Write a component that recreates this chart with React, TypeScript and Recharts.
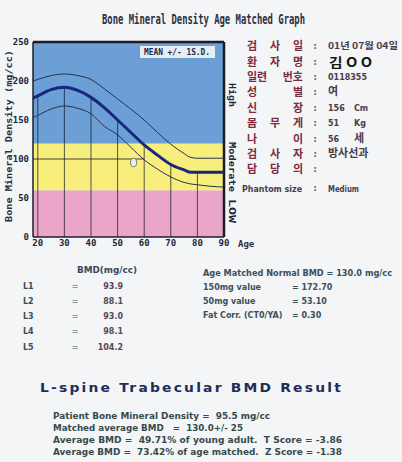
import React from 'react';
import {
    ComposedChart,
    Line,
    XAxis,
    YAxis,
    ReferenceArea,
    ReferenceLine,
    ReferenceDot,
} from 'recharts';

// age-matched reference curves (mg/cc)
const ages = [18.2, 20, 25, 30, 35, 40, 45, 50, 55, 60, 65, 70, 75, 77.5, 80, 85, 90];
const meanBmd = [178, 181, 189, 192, 188, 179, 166, 150, 134, 118, 105, 93, 86, 83, 83, 83, 83];
const upperBmd = [200, 202, 207, 209, 207, 202, 190, 177, 164, 150, 134, 119, 107, 102, 101, 101, 101];
const lowerBmd = [153, 156, 164, 168, 165, 158, 142, 131, 115, 99, 87, 77, 70, 68, 67, 65, 64];

const ageTicks = [20, 30, 40, 50, 60, 70, 80, 90];
const bmdTicks = [0, 50, 100, 150, 200, 250];
const dropAges = [20, 30, 40, 50, 60, 70, 80];

const zoneLimits = [0, 60, 120, 250];
const zoneColors = ['#e9a6c8', '#f7ee7c', '#6b9fd6'];

const patientAge = 56;
const patientBmd = 95.5;
const guideBmd = 100;
const guideAge = 60;

const infoLabels = [
    ['검', '사', '일'],
    ['환', '자', '명'],
    ['일련', '번호'],
    ['성', '별'],
    ['신', '장'],
    ['몸', '무', '게'],
    ['나', '이'],
    ['검', '사', '자'],
    ['담', '당', '의'],
];
const infoValues = ['01년 07월 04일', '김 O O', '0118355', '여', '156', '51', '56', '방사선과', ''];
const infoUnits = ['', '', '', '', 'Cm', 'Kg', '세', '', ''];
const infoRowY = [50, 66, 81, 96, 112, 127, 143, 158, 173];

const vertebrae = ['L1', 'L2', 'L3', 'L4', 'L5'];
const vertebraBmd = ['93.9', '88.1', '93.0', '98.1', '104.2'];
const vertebraY = [289, 304, 319, 334, 350];

const normLabels = ['150mg value', '50mg value', 'Fat Corr. (CT0/YA)'];
const normValues = ['= 172.70', '= 53.10', '= 0.30'];

const resultLines = [
    'Patient Bone Mineral Density =  95.5 mg/cc',
    'Matched average BMD   =  130.0+/- 25',
    'Average BMD =  49.71% of young adult.  T Score = -3.86',
    'Average BMD =  73.42% of age matched.  Z Score = -1.38',
];
const resultWidths = [217, 190, 289, 289];

const rows = ages.map((age, i) => ({
    age,
    mean: meanBmd[i],
    upper: upperBmd[i],
    lower: lowerBmd[i],
}));

const tickFont = { fontSize: 9, fontWeight: 700, fontFamily: 'DejaVu Sans Mono', fill: '#23263a' };

const BmdChart = () => (
    <ComposedChart
        width={402}
        height={462}
        data={rows}
        margin={{ top: 42, right: 178, bottom: 205, left: 13 }}
    >
        {zoneColors.map((c, i) => (
            <ReferenceArea
                key={c}
                x1={18.2}
                x2={90}
                y1={zoneLimits[i]}
                y2={zoneLimits[i + 1]}
                fill={c}
                fillOpacity={1}
                stroke="none"
            />
        ))}
        <XAxis
            dataKey="age"
            type="number"
            domain={[18.2, 90]}
            ticks={ageTicks}
            allowDataOverflow
            tickLine={false}
            tickSize={2}
            tickMargin={1}
            axisLine={{ stroke: '#1c1f2e', strokeWidth: 1.5 }}
            tick={tickFont}
            height={20}
        />
        <YAxis
            type="number"
            domain={[0, 250]}
            ticks={bmdTicks}
            tickLine={false}
            tickSize={2}
            tickMargin={2}
            axisLine={{ stroke: '#1c1f2e', strokeWidth: 1.5 }}
            tick={tickFont}
            width={20}
        />
        {dropAges.map((a) => (
            <ReferenceLine
                key={a}
                segment={[
                    { x: a, y: 0 },
                    { x: a, y: meanBmd[ages.indexOf(a)] },
                ]}
                stroke="rgba(18,22,40,0.72)"
                strokeWidth={1}
            />
        ))}
        <ReferenceLine
            segment={[
                { x: 18.2, y: guideBmd },
                { x: guideAge, y: guideBmd },
            ]}
            stroke="rgba(18,22,40,0.8)"
            strokeWidth={1}
        />
        <ReferenceLine y={250} stroke="#1a1c28" strokeWidth={2.5} />
        <ReferenceLine x={90} stroke="#1a1c28" strokeWidth={2.5} />
        <Line type="monotone" dataKey="upper" stroke="#26324f" strokeWidth={1} dot={false} isAnimationActive={false} />
        <Line type="monotone" dataKey="lower" stroke="#26324f" strokeWidth={1} dot={false} isAnimationActive={false} />
        <Line type="monotone" dataKey="mean" stroke="#19267e" strokeWidth={3} dot={false} isAnimationActive={false} />
        <ReferenceDot
            x={patientAge}
            y={patientBmd}
            r={4}
            shape={(p: any) => (
                <ellipse cx={p.cx} cy={p.cy} rx={3} ry={4.2} fill="#f1f1ee" stroke="#6f7378" strokeWidth={1} />
            )}
        />
    </ComposedChart>
);

const spreadLabel = (tokens: string[], y: number, key: number) => {
    const left = 247;
    const right = 303;
    return tokens.map((t, i) => {
        let x = left;
        let anchor: 'start' | 'middle' | 'end' = 'start';
        if (i === tokens.length - 1 && tokens.length > 1) {
            x = right;
            anchor = 'end';
        } else if (i > 0) {
            x = (left + right) / 2;
            anchor = 'middle';
        }
        return (
            <text key={`${key}-${i}`} x={x} y={y} textAnchor={anchor} fontSize={11} fontWeight={700}
                fontFamily="Noto Sans CJK KR" fill="#7b2c3e">
                {t}
            </text>
        );
    });
};

const hangul = (s: string) => /[가-힣]/.test(s);

const Overlay = () => (
    <svg width={402} height={462} style={{ position: 'absolute', left: 0, top: 0 }}>
        {/* condensed title: small mono face stretched vertically */}
        <text transform="translate(102,24) scale(1,1.45)" textLength={203} lengthAdjust="spacingAndGlyphs"
            fontSize={10} fontWeight={700} fontFamily="DejaVu Sans Mono" fill="#2b2f3f">
            Bone Mineral Density Age Matched Graph
        </text>

        <rect x={140} y={46} width={75} height={12} fill="#e7edf0" />
        <text x={177} y={55} textAnchor="middle" textLength={66} lengthAdjust="spacingAndGlyphs" fontSize={8.5}
            fontWeight={700} fontFamily="DejaVu Sans Mono" fill="#1e2a48">
            MEAN +/- 1S.D.
        </text>

        <text transform="translate(9,136) rotate(-90)" textAnchor="middle" textLength={172} lengthAdjust="spacingAndGlyphs"
            fontSize={9} fontWeight={700} fontFamily="DejaVu Sans Mono" fill="#2b3040" dy={3}>
            Bone Mineral Density (mg/cc)
        </text>
        <text x={238} y={247} fontSize={9} fontWeight={700} fontFamily="DejaVu Sans Mono" fill="#2b3040">Age</text>

        <text transform="translate(232,95) rotate(90)" textAnchor="middle" textLength={24} lengthAdjust="spacingAndGlyphs"
            dy={3} fontSize={9} fontWeight={700} fontFamily="DejaVu Sans Mono" fill="#23263a">High</text>
        <text transform="translate(232,167) rotate(90)" textAnchor="middle" textLength={50} lengthAdjust="spacingAndGlyphs"
            dy={3} fontSize={9} fontWeight={700} fontFamily="DejaVu Sans Mono" fill="#23263a">Moderate</text>
        <text transform="translate(232,211) rotate(90)" textAnchor="middle" textLength={24} lengthAdjust="spacingAndGlyphs"
            dy={3} fontSize={9} fontWeight={700} fontFamily="DejaVu Sans Mono" fill="#23263a">LOW</text>

        {infoLabels.map((tokens, i) => (
            <g key={i}>
                {spreadLabel(tokens, infoRowY[i], i)}
                <text x={315} y={infoRowY[i] - 1} textAnchor="middle" fontSize={8} fontWeight={700} fill="#5a4b58">:</text>
                {i === 1 ? (
                    <text x={329} y={infoRowY[i] + 1} textLength={43} lengthAdjust="spacingAndGlyphs" fontSize={13}
                        fontWeight={700} fontFamily="Noto Sans CJK KR" fill="#141414">
                        {infoValues[i]}
                    </text>
                ) : i === 0 ? (
                    <text x={328} y={infoRowY[i] - 1} textLength={70} lengthAdjust="spacingAndGlyphs" fontSize={9}
                        fontWeight={700} fontFamily="Noto Sans CJK KR" fill="#4a3c4c">
                        {infoValues[i]}
                    </text>
                ) : (
                    <text x={328} y={infoRowY[i] - 1} fontSize={hangul(infoValues[i]) ? 11 : 8}
                        fontWeight={700} fontFamily={hangul(infoValues[i]) ? 'Noto Sans CJK KR' : 'DejaVu Sans'}
                        fill="#4a3c4c">
                        {infoValues[i]}
                    </text>
                )}
                {infoUnits[i] && (
                    <text x={354} y={infoRowY[i] - 1} fontSize={hangul(infoUnits[i]) ? 11 : 8} fontWeight={700}
                        fontFamily={hangul(infoUnits[i]) ? 'Noto Sans CJK KR' : 'DejaVu Sans'} fill="#4a3c4c">
                        {infoUnits[i]}
                    </text>
                )}
            </g>
        ))}
        <text x={242} y={192} textLength={60} lengthAdjust="spacingAndGlyphs" fontSize={8} fontWeight={700} fill="#4a3c4c">
            Phantom size
        </text>
        <text x={315} y={191} textAnchor="middle" fontSize={8} fontWeight={700} fill="#5a4b58">:</text>
        <text x={328} y={192} textLength={31} lengthAdjust="spacingAndGlyphs" fontSize={8} fontWeight={700} fill="#4a3c4c">
            Medium
        </text>

        <text x={77} y={273} textLength={60} lengthAdjust="spacingAndGlyphs" fontSize={8} fontWeight={700} fill="#3b4658">
            BMD(mg/cc)
        </text>
        {vertebrae.map((v, i) => (
            <g key={v}>
                <text x={23} y={vertebraY[i]} fontSize={8} fontWeight={700} fill="#3b4f5c">{v}</text>
                <text x={75} y={vertebraY[i]} textAnchor="middle" fontSize={8} fontWeight={700} fill="#8a9aa4">=</text>
                <text x={123} y={vertebraY[i]} textAnchor="end" fontSize={8} fontWeight={700} fill="#5a4656">
                    {vertebraBmd[i]}
                </text>
            </g>
        ))}

        <text x={203} y={276} textLength={189} lengthAdjust="spacingAndGlyphs" fontSize={8} fontWeight={700} fill="#3b4f5c">
            Age Matched Normal BMD = 130.0 mg/cc
        </text>
        {normLabels.map((l, i) => (
            <g key={l}>
                <text x={203} y={290 + i * 14} fontSize={8} fontWeight={700} fill="#3b4f5c">{l}</text>
                <text x={292} y={290 + i * 14} fontSize={8} fontWeight={700} fill="#3b4f5c">{normValues[i]}</text>
            </g>
        ))}

        <text x={40} y={392} textLength={303} lengthAdjust="spacingAndGlyphs" fontSize={12.5} fontWeight={700}
            fontFamily="DejaVu Sans" fill="#1f2c55" letterSpacing={2}>
            L-spine Trabecular BMD Result
        </text>
        {resultLines.map((l, i) => (
            <text key={i} x={53} y={419 + i * 12} textLength={resultWidths[i]} lengthAdjust="spacingAndGlyphs"
                fontSize={8.5} fontWeight={700} fill="#364b4b" xmlSpace="preserve">
                {l}
            </text>
        ))}
    </svg>
);

export default function App() {
    return (
        <div
            style={{
                position: 'absolute',
                left: 0,
                top: 0,
                width: 402,
                height: 462,
                background: '#f3f5f6',
                overflow: 'hidden',
                fontFamily: 'DejaVu Sans',
            }}
        >
            <BmdChart />
            <Overlay />
        </div>
    );
}
